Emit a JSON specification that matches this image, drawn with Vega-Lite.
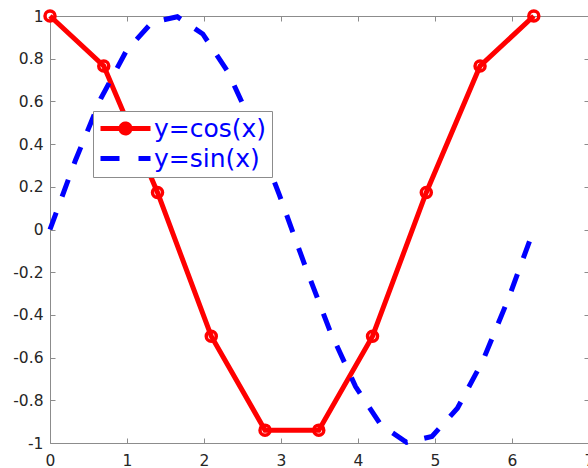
{
  "$schema": "https://vega.github.io/schema/vega-lite/v6.json",
  "width": 539,
  "height": 427,
  "autosize": {"type": "none"},
  "padding": {"left": 50, "top": 16, "right": 0, "bottom": 25},
  "background": "white",
  "config": {
    "view": {"stroke": null},
    "font": "DejaVu Sans",
    "axis": {
      "domainColor": "#8c8c8c",
      "tickColor": "#8c8c8c",
      "tickSize": -5,
      "labelColor": "#262626",
      "labelFont": "DejaVu Sans",
      "labelFontSize": 15.5,
      "grid": false,
      "title": null
    }
  },
  "data": {
    "values": [
      {"series": "y=cos(x)", "x": 0, "y": 1},
      {"series": "y=cos(x)", "x": 0.6981, "y": 0.766},
      {"series": "y=cos(x)", "x": 1.3963, "y": 0.1736},
      {"series": "y=cos(x)", "x": 2.0944, "y": -0.5},
      {"series": "y=cos(x)", "x": 2.7925, "y": -0.9397},
      {"series": "y=cos(x)", "x": 3.4907, "y": -0.9397},
      {"series": "y=cos(x)", "x": 4.1888, "y": -0.5},
      {"series": "y=cos(x)", "x": 4.8869, "y": 0.1736},
      {"series": "y=cos(x)", "x": 5.5851, "y": 0.766},
      {"series": "y=cos(x)", "x": 6.2832, "y": 1},
      {"series": "y=sin(x)", "x": 0, "y": 0},
      {"series": "y=sin(x)", "x": 0.3307, "y": 0.3247},
      {"series": "y=sin(x)", "x": 0.6614, "y": 0.6142},
      {"series": "y=sin(x)", "x": 0.9921, "y": 0.8372},
      {"series": "y=sin(x)", "x": 1.3228, "y": 0.9694},
      {"series": "y=sin(x)", "x": 1.6535, "y": 0.9966},
      {"series": "y=sin(x)", "x": 1.9842, "y": 0.9158},
      {"series": "y=sin(x)", "x": 2.3149, "y": 0.7357},
      {"series": "y=sin(x)", "x": 2.6456, "y": 0.4759},
      {"series": "y=sin(x)", "x": 2.9762, "y": 0.1646},
      {"series": "y=sin(x)", "x": 3.3069, "y": -0.1646},
      {"series": "y=sin(x)", "x": 3.6376, "y": -0.4759},
      {"series": "y=sin(x)", "x": 3.9683, "y": -0.7357},
      {"series": "y=sin(x)", "x": 4.299, "y": -0.9158},
      {"series": "y=sin(x)", "x": 4.6297, "y": -0.9966},
      {"series": "y=sin(x)", "x": 4.9604, "y": -0.9694},
      {"series": "y=sin(x)", "x": 5.2911, "y": -0.8372},
      {"series": "y=sin(x)", "x": 5.6218, "y": -0.6142},
      {"series": "y=sin(x)", "x": 5.9525, "y": -0.3247},
      {"series": "y=sin(x)", "x": 6.2832, "y": 0}
    ]
  },
  "layer": [
    {
      "transform": [{"filter": "datum.series === 'y=cos(x)'"}],
      "mark": {"type": "line", "strokeWidth": 5},
      "encoding": {
        "x": {
          "field": "x", "type": "quantitative",
          "scale": {"domain": [0, 7], "nice": false, "zero": false},
          "axis": {"orient": "bottom", "values": [0, 1, 2, 3, 4, 5, 6, 7], "labelPadding": 15, "labelFlush": false}
        },
        "y": {
          "field": "y", "type": "quantitative",
          "scale": {"domain": [-1, 1], "nice": false, "zero": false},
          "axis": {
            "orient": "left",
            "values": [-1, -0.8, -0.6, -0.4, -0.2, 0, 0.2, 0.4, 0.6, 0.8, 1],
            "format": "~g",
            "labelExpr": "replace(datum.label, '\u2212', '-')",
            "labelPadding": 12,
            "labelFlush": false
          }
        },
        "color": {
          "field": "series", "type": "nominal",
          "scale": {"domain": ["y=cos(x)", "y=sin(x)"], "range": ["#ff0000", "#0000ff"]},
          "legend": {
            "title": null,
            "orient": "none",
            "legendX": 43,
            "legendY": 95,
            "fillColor": "white",
            "strokeColor": "#8c8c8c",
            "padding": 5,
            "labelFont": "DejaVu Sans",
            "labelFontSize": 25,
            "labelColor": "#0000ff",
            "labelOffset": 31,
            "rowPadding": 3,
            "symbolSize": 400,
            "symbolStrokeWidth": 5,
            "encode": {
              "symbols": {
                "update": {
                  "shape": {"signal": "datum.value === 'y=cos(x)' ? 'M-1,0H4M1.05,0A0.45,0.45 0 1,0 1.95,0A0.45,0.45 0 1,0 1.05,0' : 'M-1,0H0.9M2.8,0H4'"},
                  "strokeDash": {"value": [1, 0]},
                  "fill": {"value": "transparent"}
                }
              }
            }
          }
        }
      }
    },
    {
      "transform": [{"filter": "datum.series === 'y=cos(x)'"}],
      "mark": {"type": "point", "shape": "circle", "filled": false, "color": "#ff0000", "strokeWidth": 3.5, "size": 100, "opacity": 1},
      "encoding": {
        "x": {"field": "x", "type": "quantitative", "axis": null},
        "y": {"field": "y", "type": "quantitative", "axis": null}
      }
    },
    {
      "transform": [{"filter": "datum.series === 'y=sin(x)'"}],
      "mark": {"type": "line", "strokeWidth": 5, "strokeDash": [18, 17]},
      "encoding": {
        "x": {
          "field": "x", "type": "quantitative",
          "axis": {"orient": "top", "values": [0, 1, 2, 3, 4, 5, 6, 7], "labels": false}
        },
        "y": {
          "field": "y", "type": "quantitative",
          "axis": {"orient": "right", "values": [-1, -0.8, -0.6, -0.4, -0.2, 0, 0.2, 0.4, 0.6, 0.8, 1], "labels": false}
        },
        "color": {"field": "series", "type": "nominal"}
      }
    }
  ],
  "resolve": {"axis": {"x": "independent", "y": "independent"}}
}
